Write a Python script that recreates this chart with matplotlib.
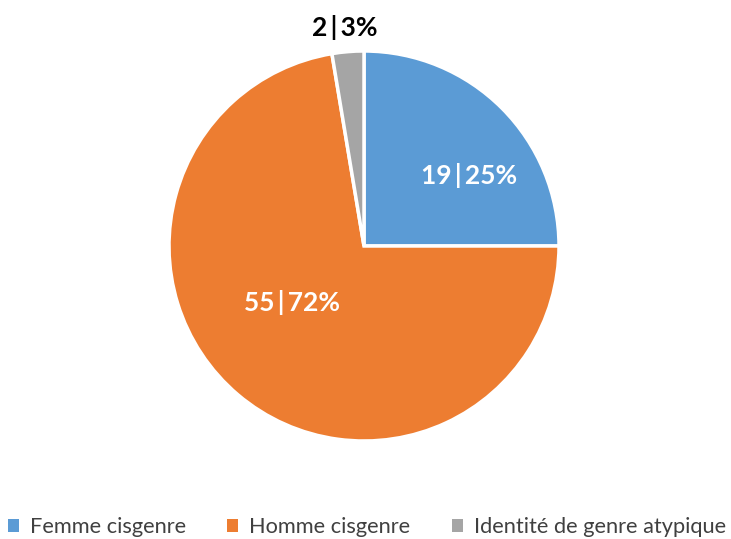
import matplotlib
matplotlib.use("Agg")
import matplotlib.pyplot as plt
from matplotlib.patches import Patch

categories = ["Femme cisgenre", "Homme cisgenre", "Identité de genre atypique"]
counts = [19, 55, 2]
percent_labels = ["25%", "72%", "3%"]
colors = ["#5B9BD5", "#ED7D31", "#A5A5A5"]

plt.rcParams['font.family'] = ['Lato', 'DejaVu Sans']

fig = plt.figure(figsize=(7.31, 5.39), dpi=100)
ax = fig.add_axes([169/731, (539-441)/539, 390/731, 390/539])
wedges, _ = ax.pie(counts, colors=colors, startangle=90, counterclock=False,
                   radius=1.0, wedgeprops=dict(edgecolor="white", linewidth=2.5))
ax.set_xlim(-1, 1)
ax.set_ylim(-1, 1)
ax.set_aspect("auto")
ax.axis("off")

label_pos = [(0.54, 0.36), (-0.37, -0.29), (-0.10, 1.12)]
label_col = ["white", "white", "black"]
for c, p, pos, col in zip(counts, percent_labels, label_pos, label_col):
    ax.text(pos[0], pos[1], f"{c}\u2009|\u2009{p}", ha="center", va="center",
            fontsize=19, fontweight="bold", color=col, clip_on=False)

handles = [Patch(facecolor=c, edgecolor="none") for c in colors]
fig.legend(handles, categories, loc="lower center", ncol=3, frameon=False,
           bbox_to_anchor=(0.502, -0.033), fontsize=15.7, handlelength=0.5,
           handleheight=0.5, handletextpad=0.5, columnspacing=1.9,
           labelcolor="#404040")

fig.savefig("out.png", dpi=100)
